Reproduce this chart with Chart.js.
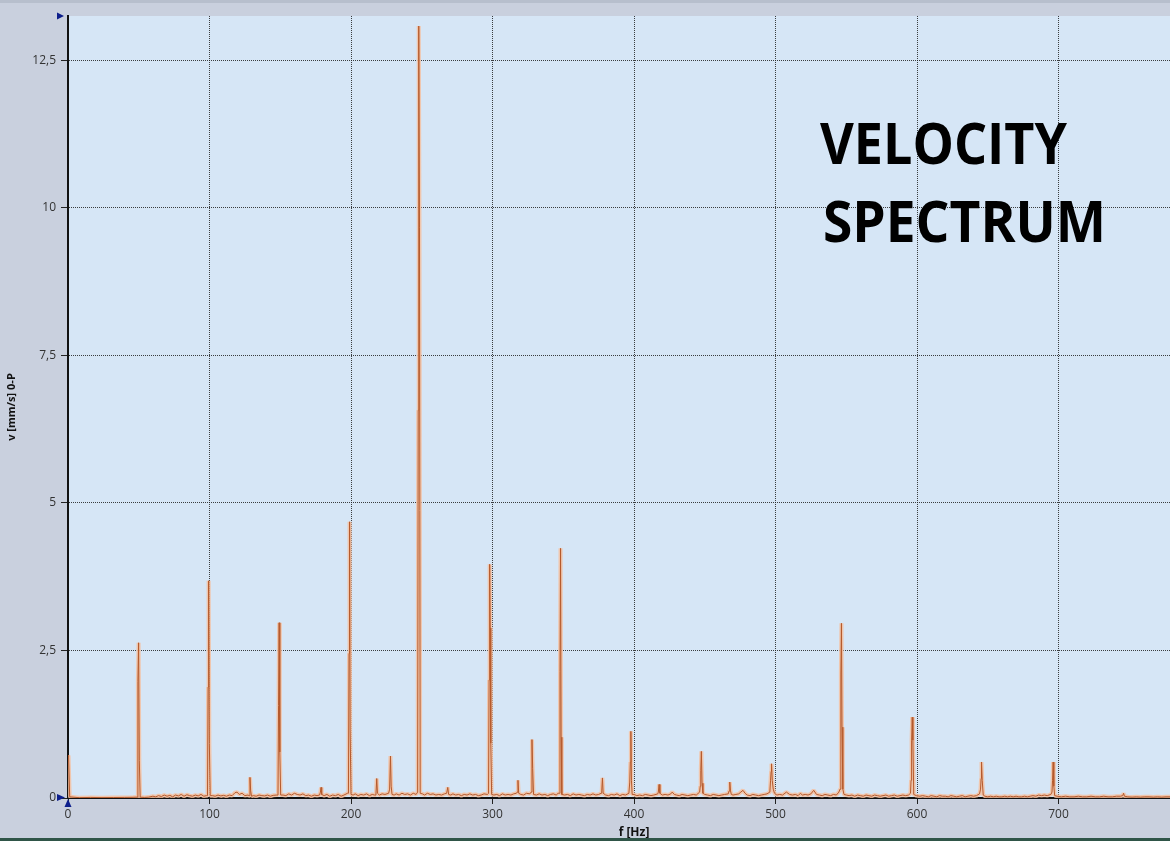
<!DOCTYPE html>
<html>
<head>
<meta charset="utf-8">
<script src="https://cdn.jsdelivr.net/npm/chart.js@4.4.0/dist/chart.umd.min.js"></script>
<style>
  html, body { margin: 0; padding: 0; overflow: hidden; background: #c9d0de; }
  #frame { position: relative; width: 1170px; height: 841px; overflow: hidden; background: #c9d0de; }
  #topstrip { position: absolute; left: 0; top: 0; width: 1170px; height: 3px; background: #b7bfcd; }
  #botstrip { position: absolute; left: 0; bottom: 0; width: 1170px; height: 3px; background: #2f5548; }
  #wrap { position: absolute; left: 0; top: 0; width: 1205px; height: 841px; }
</style>
</head>
<body>
<div id="frame">
  <div id="wrap"><canvas id="c"></canvas></div>
  <div id="topstrip"></div>
  <div id="botstrip"></div>
</div>
<script>
// ---- Data (frequency in Hz, velocity in mm/s 0-P) ----
const freqHz = [
  0, 0.4, 1.2, 8, 16, 24, 32, 40, 46,
  48.8, 49.4, 49.9, 50.4, 51.0,
  54, 57, 60, 62, 64, 66, 68, 70, 72, 74, 76, 78, 80, 82, 84, 86, 88, 90, 92, 94, 96, 97.8,
  98.6, 99.0, 99.4, 99.9, 100.5,
  102, 104, 106, 108, 110, 112, 114, 116, 118, 119.5, 121, 123, 125, 127.2,
  128.0, 128.6, 129.1, 129.7,
  131, 133, 135, 137, 139, 141, 143, 145, 147.6,
  148.4, 148.8, 149.2, 149.7, 150.3,
  152, 154, 156, 158, 160, 162, 164, 166, 168, 170, 172, 174, 176, 177.8,
  178.4, 178.8, 179.3,
  181, 183, 185, 187, 189, 191, 193, 195, 197.5,
  198.2, 198.6, 199.0, 199.4, 200.0,
  201.5, 203, 205, 207, 209, 211, 213, 215, 216.8,
  217.6, 218.2, 218.7,
  220, 222, 224, 226.6,
  227.3, 227.9, 228.4, 229,
  230.5, 232, 234, 236, 238, 240, 242, 244, 246,
  247.1, 247.5, 247.9, 248.4, 248.9,
  250.5, 252, 254, 256, 258, 260, 262, 264, 266, 267.6,
  268.4, 269,
  270.5, 272, 274, 276, 278, 280, 282, 284, 286, 288, 290, 292, 294, 296.5,
  297.2, 297.6, 298.0, 298.4, 298.8, 299.4,
  301, 303, 305, 307, 309, 311, 313, 315, 316.9,
  317.5, 318.0, 318.5,
  320, 322, 324, 326.4,
  327.3, 327.9, 328.4, 329.0,
  331, 333, 335, 337, 339, 341, 343, 345, 346.4,
  347.3, 347.7, 348.1, 348.5, 349.0,
  351, 353, 355, 357, 359, 361, 363, 365, 367, 369, 371, 373, 375, 376.8,
  377.2, 377.7, 378.2,
  380, 382, 384, 386, 388, 390, 392, 394, 396.4,
  397.0, 397.4, 397.8, 398.2, 398.7,
  400, 402, 404, 406, 408, 410, 412, 414, 416.8,
  417.2, 417.7, 418.3,
  420, 422, 424, 426, 427, 428.5, 430, 432, 434, 436, 438, 440, 442, 444, 446.4,
  446.8, 447.2, 447.6, 448.1, 448.7,
  450, 452, 454, 456, 458, 460, 462, 464, 466.6,
  467.2, 467.7, 468.2, 468.8,
  470, 472, 474, 475.5, 477, 478.5, 480, 482, 484, 486, 488, 490, 492, 494, 496.0,
  496.5, 496.9, 497.2, 497.7, 498.4, 499.3,
  501, 503, 505, 507.7, 510, 512, 514, 516, 517.6, 519, 521, 523, 525, 527, 529, 531, 533, 535, 537, 539, 541, 543, 544.8,
  545.6, 546.2, 546.6, 547.0, 547.6, 548.4,
  550, 552, 554, 556, 558, 560, 562, 564, 566, 568, 570, 572, 574, 576, 578, 580, 582, 584, 586, 588, 590, 592, 594, 595.4,
  595.8, 596.2, 596.6, 597.1, 597.7,
  599.5, 602, 604, 606, 608, 610, 612, 614, 616, 618, 620, 622, 624, 626, 628, 630, 632, 634, 636, 638, 640, 642, 644.2,
  644.9, 645.3, 645.6, 646.1, 646.8,
  648, 650, 652, 654, 656, 658, 660, 662, 664, 666, 668, 670, 672, 674, 676, 678, 680, 682, 684, 686, 688, 690, 692, 694.6,
  695.4, 695.8, 696.2, 696.7, 697.3,
  699, 702, 705, 708, 711, 714, 717, 720, 723, 726, 729, 732, 735, 738, 741, 743.8,
  745.4, 746.0, 746.6,
  749, 752, 755, 758, 761, 764, 767, 770, 773, 776, 779, 782, 785, 788, 791, 794, 797, 800
];
const velocity = [
  0.72, 0.7, 0.02, 0.005, 0.01, 0.006, 0.008, 0.01, 0.012,
  0.015, 1.97, 2.63, 0.64, 0.015,
  0.01, 0.015, 0.03, 0.02, 0.04, 0.025, 0.05, 0.03, 0.045, 0.02, 0.05, 0.035, 0.06, 0.03, 0.055, 0.04, 0.03, 0.05, 0.035, 0.06, 0.03, 0.04,
  0.04, 1.88, 3.68, 0.92, 0.04,
  0.04, 0.03, 0.05, 0.035, 0.045, 0.03, 0.05, 0.04, 0.09, 0.1, 0.06, 0.08, 0.04, 0.05,
  0.04, 0.35, 0.12, 0.03,
  0.04, 0.03, 0.05, 0.04, 0.035, 0.05, 0.03, 0.045, 0.05,
  0.05, 1.57, 2.97, 0.78, 0.05,
  0.05, 0.04, 0.07, 0.05, 0.08, 0.06, 0.05, 0.07, 0.04, 0.05, 0.03, 0.05, 0.04, 0.05,
  0.1, 0.18, 0.06,
  0.04, 0.06, 0.03, 0.05, 0.04, 0.06, 0.03, 0.05, 0.08,
  0.08, 2.45, 4.68, 1.15, 0.06,
  0.05, 0.07, 0.04, 0.06, 0.05, 0.07, 0.04, 0.06, 0.05,
  0.05, 0.33, 0.08,
  0.05, 0.07, 0.06, 0.08,
  0.15, 0.71, 0.2, 0.06,
  0.05, 0.07, 0.05, 0.08, 0.06, 0.07, 0.05, 0.08, 0.06,
  0.1, 6.57, 13.08, 9.66, 0.08,
  0.07, 0.05, 0.08, 0.06, 0.07, 0.05, 0.06, 0.05, 0.07, 0.08,
  0.18, 0.06,
  0.05, 0.07, 0.05, 0.06, 0.04, 0.06, 0.05, 0.07, 0.05, 0.06, 0.04, 0.05, 0.07, 0.06,
  0.08, 2.0, 3.96, 2.88, 0.93, 0.06,
  0.05, 0.06, 0.04, 0.07, 0.05, 0.06, 0.05, 0.07, 0.08,
  0.1, 0.3, 0.08,
  0.06, 0.05, 0.08, 0.07,
  0.1, 0.99, 0.5, 0.06,
  0.05, 0.07, 0.05, 0.06, 0.04, 0.06, 0.07, 0.05, 0.08,
  0.08, 2.14, 4.23, 1.03, 0.06,
  0.05, 0.06, 0.04, 0.07, 0.05, 0.06, 0.05, 0.04, 0.06, 0.05, 0.07, 0.05, 0.06, 0.08,
  0.12, 0.34, 0.08,
  0.05, 0.04, 0.06, 0.05, 0.07, 0.04, 0.06, 0.05, 0.08,
  0.27, 0.61, 1.13, 0.3, 0.06,
  0.06, 0.04, 0.05, 0.04, 0.06, 0.05, 0.04, 0.05, 0.07,
  0.1, 0.23, 0.08,
  0.05, 0.06, 0.05, 0.07, 0.1, 0.06, 0.05, 0.04, 0.06, 0.05, 0.04, 0.05, 0.06, 0.05, 0.1,
  0.2, 0.47, 0.79, 0.25, 0.08,
  0.06, 0.05, 0.04, 0.06, 0.05, 0.04, 0.05, 0.06, 0.07,
  0.12, 0.27, 0.12, 0.06,
  0.05, 0.06, 0.07, 0.1, 0.13, 0.08, 0.05, 0.04, 0.06, 0.05, 0.04, 0.05, 0.06, 0.07, 0.1,
  0.3, 0.45, 0.58, 0.3, 0.15, 0.08,
  0.05, 0.06, 0.05, 0.1, 0.06, 0.05, 0.06, 0.04, 0.08, 0.05, 0.06, 0.05, 0.07, 0.13, 0.06, 0.05, 0.04, 0.06, 0.05, 0.04, 0.06, 0.05, 0.1,
  0.15, 2.1, 2.96, 1.2, 0.15, 0.06,
  0.05, 0.04, 0.05, 0.03, 0.05, 0.04, 0.03, 0.05, 0.04, 0.03, 0.05, 0.04, 0.03, 0.04, 0.05, 0.03, 0.04, 0.05, 0.03, 0.04, 0.05, 0.04, 0.05, 0.08,
  0.3, 0.98, 1.37, 0.98, 0.06,
  0.04, 0.03, 0.04, 0.03, 0.02, 0.04, 0.03, 0.02, 0.04, 0.03, 0.03, 0.02, 0.04, 0.03, 0.02, 0.03, 0.04, 0.02, 0.03, 0.04, 0.03, 0.04, 0.07,
  0.15, 0.33, 0.61, 0.3, 0.05,
  0.03, 0.02, 0.03, 0.02, 0.03, 0.02, 0.02, 0.03, 0.02, 0.03, 0.02, 0.03, 0.02, 0.02, 0.03, 0.02, 0.03, 0.04, 0.03, 0.05, 0.04, 0.05, 0.04, 0.06,
  0.1, 0.3, 0.61, 0.2, 0.04,
  0.03, 0.02, 0.03, 0.02, 0.02, 0.03, 0.02, 0.02, 0.03, 0.02, 0.02, 0.03, 0.02, 0.02, 0.03, 0.03,
  0.04, 0.08, 0.03,
  0.02, 0.015, 0.02, 0.015, 0.02, 0.02, 0.015, 0.02, 0.015, 0.02, 0.02, 0.015, 0.02, 0.015, 0.02, 0.02, 0.015, 0.02
];
const xTickValues = [0, 100, 200, 300, 400, 500, 600, 700];
const yTickValues = [0, 2.5, 5, 7.5, 10, 12.5];
const titleLines = ['VELOCITY', 'SPECTRUM'];
const xAxisTitle = 'f [Hz]';
const yAxisTitle = 'v [mm/s] 0-P';

const points = freqHz.map((f, i) => ({ x: f, y: velocity[i] }));

const plotBg = {
  id: 'plotBg',
  beforeDraw(chart) {
    const { ctx, chartArea: a } = chart;
    ctx.save();
    ctx.fillStyle = '#d6e6f6';
    ctx.fillRect(a.left, a.top, a.right - a.left, a.bottom - a.top);
    ctx.restore();
  }
};

const decor = {
  id: 'decor',
  afterDraw(chart) {
    const { ctx, chartArea: a, scales } = chart;
    const x0 = scales.x.getPixelForValue(0);
    const y0 = scales.y.getPixelForValue(0);
    ctx.save();
    ctx.fillStyle = '#0d1f8c';
    // top-left marker
    ctx.beginPath();
    ctx.moveTo(a.left - 11, a.top - 3.5);
    ctx.lineTo(a.left - 11, a.top + 3.5);
    ctx.lineTo(a.left - 4, a.top);
    ctx.closePath(); ctx.fill();
    // zero marker on y
    ctx.beginPath();
    ctx.moveTo(x0 - 11, y0 - 4);
    ctx.lineTo(x0 - 11, y0 + 3);
    ctx.lineTo(x0 - 3, y0 - 0.5);
    ctx.closePath(); ctx.fill();
    // zero marker on x
    ctx.beginPath();
    ctx.moveTo(x0 - 3.5, y0 + 9);
    ctx.lineTo(x0 + 3.5, y0 + 9);
    ctx.lineTo(x0, y0 + 1);
    ctx.closePath(); ctx.fill();
    // big label
    ctx.fillStyle = '#000';
    ctx.font = 'bold 57px "Open Sans", Lato, sans-serif';
    ctx.textBaseline = 'alphabetic';
    ctx.textAlign = 'left';
    ctx.fillText(titleLines[0], 820, 164, 247);
    ctx.fillText(titleLines[1], 823, 242, 283);
    ctx.restore();
  }
};

const FONT = '"Open Sans", "Noto Sans", sans-serif';

new Chart(document.getElementById('c'), {
  type: 'line',
  data: {
    datasets: [
      {
        data: points,
        borderColor: '#b65a2c',
        borderWidth: 1,
        borderJoinStyle: 'bevel',
        pointRadius: 0,
        tension: 0,
        fill: false,
        order: 1
      },
      {
        data: points,
        borderColor: 'rgba(245,192,160,0.85)',
        borderWidth: 4,
        borderJoinStyle: 'bevel',
        pointRadius: 0,
        tension: 0,
        fill: false,
        order: 2
      }
    ]
  },
  options: {
    responsive: true,
    maintainAspectRatio: false,
    animation: false,
    events: [],
    layout: { padding: { top: 16, right: 5, bottom: 0, left: 0 } },
    plugins: { legend: { display: false }, tooltip: { enabled: false }, title: { display: false } },
    scales: {
      x: {
        type: 'linear',
        min: 0,
        max: 800,
        afterBuildTicks(scale) { scale.ticks = xTickValues.map(v => ({ value: v })); },
        afterFit(scale) { scale.height = 43; },
        ticks: {
          color: '#333',
          font: { family: FONT, size: 12 },
          padding: 3,
          maxRotation: 0,
          autoSkip: false,
          callback: v => String(v)
        },
        grid: {
          color: 'rgba(30,30,30,0.85)',
          lineWidth: 1,
          drawTicks: true,
          tickLength: 6,
          tickColor: '#222',
          tickBorderDash: [],
          borderDash: [1, 1]
        },
        border: { display: true, color: '#111', width: 2, dash: [1, 1] },
        title: {
          display: true,
          text: xAxisTitle,
          color: '#111',
          font: { family: FONT, size: 12, weight: 'bold' },
          padding: { top: 0, bottom: 1 }
        }
      },
      y: {
        type: 'linear',
        min: 0,
        max: 13.25,
        afterBuildTicks(scale) { scale.ticks = yTickValues.map(v => ({ value: v })); },
        afterFit(scale) { scale.width = 68; },
        ticks: {
          color: '#333',
          font: { family: FONT, size: 12 },
          padding: 5,
          autoSkip: false,
          callback: v => String(v).replace('.', ',')
        },
        grid: {
          color: 'rgba(30,30,30,0.85)',
          lineWidth: 1,
          drawTicks: true,
          tickLength: 7,
          tickColor: '#222',
          tickBorderDash: [],
          borderDash: [1, 1]
        },
        border: { display: true, color: '#111', width: 2, dash: [1, 1] },
        title: {
          display: true,
          text: yAxisTitle,
          color: '#111',
          font: { family: FONT, size: 11, weight: 'bold' },
          padding: { top: 5, bottom: 0 }
        }
      }
    }
  },
  plugins: [plotBg, decor]
});
</script>
</body>
</html>
